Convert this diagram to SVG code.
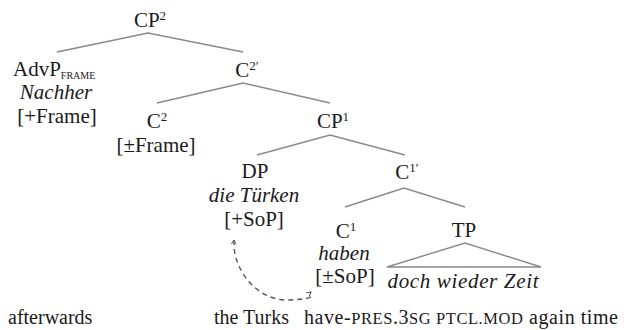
<svg xmlns="http://www.w3.org/2000/svg" width="624" height="330" viewBox="0 0 624 330">
<style>
text{font-family:"Liberation Serif","Times New Roman",serif;font-size:21px;fill:#1a1a1a}
.n{text-anchor:middle}
.i{font-style:italic}
.sup{font-size:13px}
.sub{font-size:10px}
.gl{font-size:20px}
.sc{font-size:16.5px}
.br{stroke:#8a8a8a;stroke-width:1.4;fill:none}
.mv{stroke:#555;stroke-width:1.4;fill:none;stroke-dasharray:5 4}
</style>
<defs>
<marker id="ah" viewBox="0 0 10 10" refX="8" refY="5" markerWidth="6" markerHeight="6" orient="auto-start-reverse" markerUnits="userSpaceOnUse">
<path d="M1,1 L8,5 L1,9" fill="none" stroke="#555" stroke-width="1.6"/>
</marker>
</defs>
<rect width="624" height="330" fill="#fff"/>
<g id="connectors">
<path class="br" d="M57,52 L148,33 L243,52"/>
<path class="br" d="M157,103 L243,83 L330,103"/>
<path class="br" d="M257,155 L330,135 L405,155"/>
<path class="br" d="M345,207 L404,188 L465,207"/>
<path class="br" d="M387,267 L465,243 L541,267 Z"/>
<path class="mv" d="M234,240 C232,270 258,302 290,300 S306,296 311,292" marker-start="url(#ah)" marker-end="url(#ah)"/>
</g>
<g id="cp2"><text class="n" x="150" y="27">CP<tspan class="sup" dy="-7">2</tspan></text></g>
<g id="advp">
<text x="13" y="76">AdvP<tspan class="sub" dy="3">FRAME</tspan></text>
<text class="n i" x="56" y="99">Nachher</text>
<text class="n" x="57" y="123">[+Frame]</text>
</g>
<g id="c2bar"><text class="n" x="247" y="77">C<tspan class="sup" dy="-7">2′</tspan></text></g>
<g id="c2">
<text class="n" x="157" y="128">C<tspan class="sup" dy="-7">2</tspan></text>
<text class="n" x="156" y="152">[±Frame]</text>
</g>
<g id="cp1"><text class="n" x="333" y="128">CP<tspan class="sup" dy="-7">1</tspan></text></g>
<g id="dp">
<text class="n" x="255" y="178">DP</text>
<text class="n i" x="254" y="202">die Türken</text>
<text class="n" x="254" y="226">[+SoP]</text>
</g>
<g id="c1bar"><text class="n" x="407" y="179">C<tspan class="sup" dy="-7">1′</tspan></text></g>
<g id="c1">
<text class="n" x="346" y="238">C<tspan class="sup" dy="-7">1</tspan></text>
<text class="n i" x="344" y="260">haben</text>
<text class="n" x="345" y="283">[±SoP]</text>
</g>
<g id="tp">
<text class="n" x="464" y="237">TP</text>
<text class="n i" x="463" y="288" textLength="151" lengthAdjust="spacing">doch wieder Zeit</text>
</g>
<g id="gloss">
<text class="gl" x="8" y="324">afterwards</text>
<text class="gl" x="214" y="324">the Turks</text>
<text class="gl" x="304" y="324" textLength="314" lengthAdjust="spacing">have-<tspan class="sc">PRES</tspan>.3<tspan class="sc">SG PTCL.MOD</tspan> again time</text>
</g>
</svg>
